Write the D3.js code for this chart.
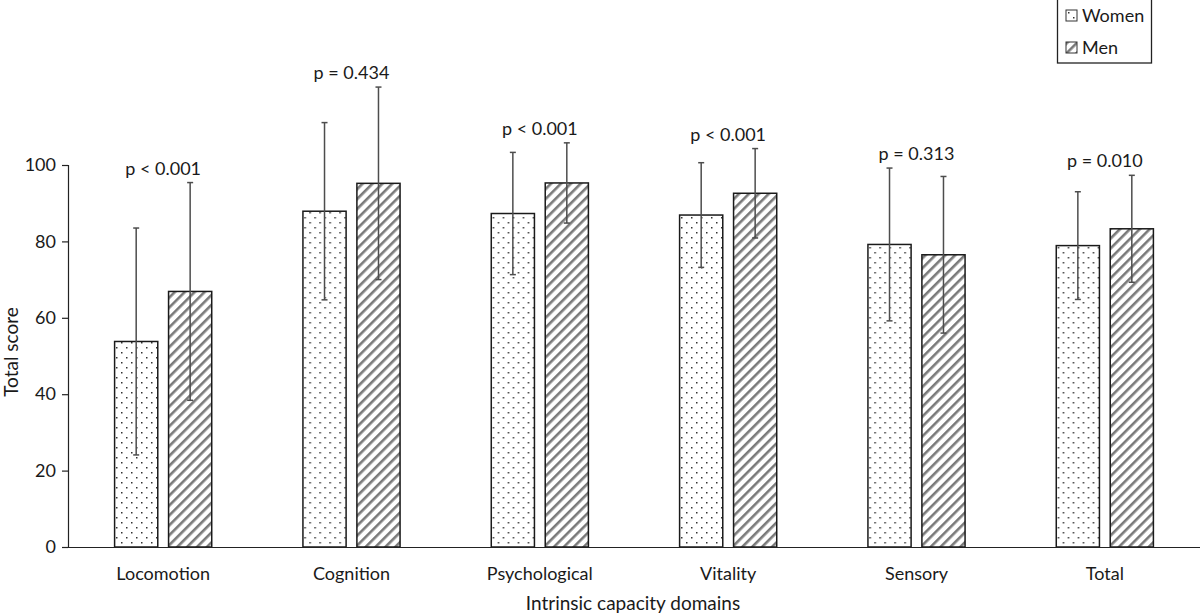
<!DOCTYPE html>
<html>
<head>
<meta charset="utf-8">
<script src="https://cdn.jsdelivr.net/npm/d3@7"></script>
<style>
  body { margin: 0; background: #fff; }
  svg text { font-family: Lato, "Open Sans", sans-serif; fill: #1a1a1a; }
</style>
</head>
<body>
<div id="chart"></div>
<script>
// data
var domains = ["Locomotion", "Cognition", "Psychological", "Vitality", "Sensory", "Total"];
var groups = ["Women", "Men"];
var womenMean = [53.8, 87.9, 87.3, 86.9, 79.2, 78.9];
var womenSD = [29.7, 23.2, 16.0, 13.7, 20.0, 14.1];
var menMean = [66.9, 95.2, 95.3, 92.6, 76.5, 83.3];
var menSD = [28.5, 25.2, 10.5, 11.7, 20.5, 14.0];
var pLabels = ["p < 0.001", "p = 0.434", "p < 0.001", "p < 0.001", "p = 0.313", "p = 0.010"];
var yTicks = [0, 20, 40, 60, 80, 100];

var W = 1200, H = 616;
var svg = d3.select("#chart").append("svg")
  .attr("width", W)
  .attr("height", H);

// patterns: dots for women, diagonal hatch for men
var defs = svg.append("defs");
var dots = defs.append("pattern")
  .attr("id", "dots")
  .attr("patternUnits", "userSpaceOnUse")
  .attr("width", 10).attr("height", 10);
dots.append("rect").attr("width", 10).attr("height", 10).attr("fill", "#fff");
dots.append("rect").attr("x", 2).attr("y", 2).attr("width", 1.5).attr("height", 1.5).attr("fill", "#333");
dots.append("rect").attr("x", 7).attr("y", 7).attr("width", 1.5).attr("height", 1.5).attr("fill", "#333");

var hatch = defs.append("pattern")
  .attr("id", "hatch")
  .attr("patternUnits", "userSpaceOnUse")
  .attr("width", 7).attr("height", 7)
  .attr("patternTransform", "rotate(45)");
hatch.append("rect").attr("width", 7).attr("height", 7).attr("fill", "#fff");
hatch.append("rect").attr("x", 0).attr("y", 0).attr("width", 2.6).attr("height", 7).attr("fill", "#7a7a7a");

var fills = {"Women": "url(#dots)", "Men": "url(#hatch)"};

var x = d3.scaleBand().domain(domains).range([69, 1199]).padding(0);
var x1 = d3.scaleBand().domain(groups).range([0, x.bandwidth()])
  .paddingInner(0.2).paddingOuter(0.845);
var y = d3.scaleLinear().domain([0, 100]).range([547, 165]);

var rows = domains.map(function(d, i){
  return {
    domain: d,
    p: pLabels[i],
    bars: [
      {group: "Women", mean: womenMean[i], sd: womenSD[i]},
      {group: "Men", mean: menMean[i], sd: menSD[i]}
    ]
  };
});

// y axis
var yAxis = svg.append("g")
  .attr("transform", "translate(68,0)")
  .call(d3.axisLeft(y).tickValues(yTicks).tickSize(6).tickPadding(6));
yAxis.select(".domain").attr("stroke", "#222").attr("stroke-width", 1.2);
yAxis.selectAll(".tick line").attr("stroke", "#222").attr("stroke-width", 1.2);
yAxis.selectAll(".tick text").style("font-size", "18px").attr("fill", "#1a1a1a");

// groups per domain
var cat = svg.selectAll(".cat")
  .data(rows)
  .enter().append("g")
  .attr("class", "cat")
  .attr("transform", function(d){ return "translate(" + x(d.domain) + ",0)"; });

cat.selectAll("rect.bar")
  .data(function(d){ return d.bars; })
  .enter().append("rect")
  .attr("class", "bar")
  .attr("x", function(d){ return x1(d.group); })
  .attr("y", function(d){ return y(d.mean); })
  .attr("width", x1.bandwidth())
  .attr("height", function(d){ return y(0) - y(d.mean); })
  .attr("fill", function(d){ return fills[d.group]; })
  .attr("stroke", "#1a1a1a")
  .attr("stroke-width", 1.5);

// error bars
var err = cat.selectAll("g.err")
  .data(function(d){ return d.bars; })
  .enter().append("g")
  .attr("class", "err")
  .attr("stroke", "#4d4d4d")
  .attr("stroke-width", 1.5);
err.append("line")
  .attr("x1", function(d){ return x1(d.group) + x1.bandwidth() / 2; })
  .attr("x2", function(d){ return x1(d.group) + x1.bandwidth() / 2; })
  .attr("y1", function(d){ return y(d.mean - d.sd); })
  .attr("y2", function(d){ return y(d.mean + d.sd); });
err.selectAll("line.cap")
  .data(function(d){ return [d.mean - d.sd, d.mean + d.sd].map(function(v){ return {g: d.group, v: v}; }); })
  .enter().append("line")
  .attr("class", "cap")
  .attr("x1", function(d){ return x1(d.g) + x1.bandwidth() / 2 - 3; })
  .attr("x2", function(d){ return x1(d.g) + x1.bandwidth() / 2 + 3; })
  .attr("y1", function(d){ return y(d.v); })
  .attr("y2", function(d){ return y(d.v); });

// p value labels
cat.append("text")
  .attr("x", x.bandwidth() / 2)
  .attr("y", function(d){
    return y(d3.max(d.bars, function(b){ return b.mean + b.sd; })) - 8;
  })
  .attr("text-anchor", "middle")
  .style("font-size", "18px")
  .text(function(d){ return d.p; });

// x axis
var xAxis = svg.append("g")
  .attr("transform", "translate(0,547)")
  .call(d3.axisBottom(x).tickSize(0).tickPadding(20));
xAxis.select(".domain").attr("d", "M68,0.5H1200").attr("stroke", "#222").attr("stroke-width", 1.2);
xAxis.selectAll(".tick text").style("font-size", "18px").attr("fill", "#1a1a1a");

// axis titles
svg.append("text")
  .attr("transform", "translate(18,352) rotate(-90)")
  .attr("text-anchor", "middle")
  .style("font-size", "19px")
  .text("Total score");
svg.append("text")
  .attr("x", 633).attr("y", 610)
  .attr("text-anchor", "middle")
  .style("font-size", "19px")
  .text("Intrinsic capacity domains");

// legend
var legend = svg.append("g");
legend.append("rect")
  .attr("x", 1057.5).attr("y", -1)
  .attr("width", 94).attr("height", 64)
  .attr("fill", "#fff").attr("stroke", "#222").attr("stroke-width", 1.3);
var li = legend.selectAll("g.li")
  .data(groups)
  .enter().append("g")
  .attr("class", "li")
  .attr("transform", function(d, i){ return "translate(1066," + (10 + i * 32) + ")"; });
li.append("rect")
  .attr("width", 11).attr("height", 11)
  .attr("fill", function(d){ return fills[d]; })
  .attr("stroke", "#333").attr("stroke-width", 1);
li.append("text")
  .attr("x", 16).attr("y", 12)
  .style("font-size", "18px")
  .text(function(d){ return d; });
</script>
</body>
</html>
